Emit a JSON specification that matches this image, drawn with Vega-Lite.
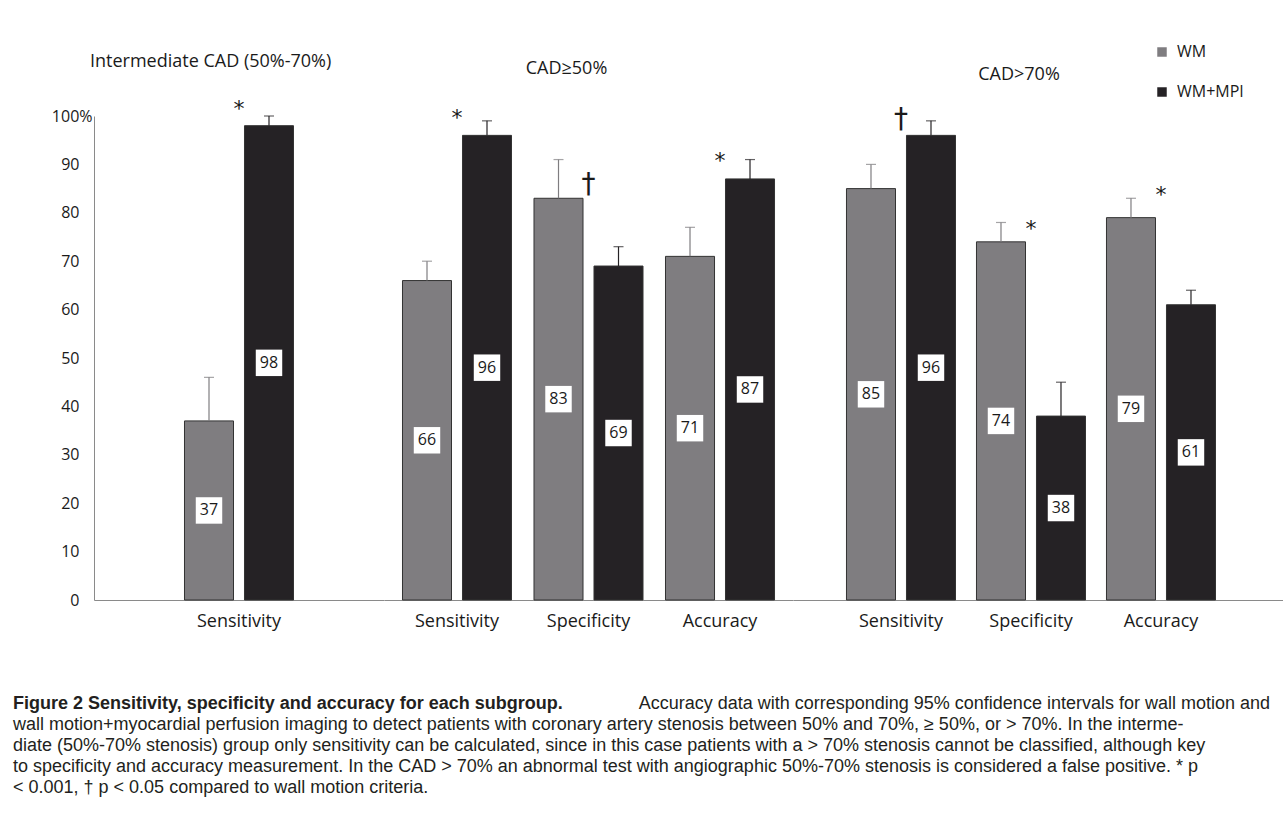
{
  "$schema": "https://vega.github.io/schema/vega-lite/v6.json",
  "background": "white",
  "padding": {"left": 13, "top": 44, "right": 0, "bottom": 0},
  "datasets": {
    "bars": [
      {"group": "Intermediate CAD (50%-70%)", "metric": "Sensitivity", "series": "WM", "value": 37, "upper": 46},
      {"group": "Intermediate CAD (50%-70%)", "metric": "Sensitivity", "series": "WM+MPI", "value": 98, "upper": 100},
      {"group": "CAD≥50%", "metric": "Sensitivity", "series": "WM", "value": 66, "upper": 70},
      {"group": "CAD≥50%", "metric": "Sensitivity", "series": "WM+MPI", "value": 96, "upper": 99},
      {"group": "CAD≥50%", "metric": "Specificity", "series": "WM", "value": 83, "upper": 91},
      {"group": "CAD≥50%", "metric": "Specificity", "series": "WM+MPI", "value": 69, "upper": 73},
      {"group": "CAD≥50%", "metric": "Accuracy", "series": "WM", "value": 71, "upper": 77},
      {"group": "CAD≥50%", "metric": "Accuracy", "series": "WM+MPI", "value": 87, "upper": 91},
      {"group": "CAD>70%", "metric": "Sensitivity", "series": "WM", "value": 85, "upper": 90},
      {"group": "CAD>70%", "metric": "Sensitivity", "series": "WM+MPI", "value": 96, "upper": 99},
      {"group": "CAD>70%", "metric": "Specificity", "series": "WM", "value": 74, "upper": 78},
      {"group": "CAD>70%", "metric": "Specificity", "series": "WM+MPI", "value": 38, "upper": 45},
      {"group": "CAD>70%", "metric": "Accuracy", "series": "WM", "value": 79, "upper": 83},
      {"group": "CAD>70%", "metric": "Accuracy", "series": "WM+MPI", "value": 61, "upper": 64}
    ],
    "sig": [
      {"group": "Intermediate CAD (50%-70%)", "metric": "Sensitivity", "sig": "*", "at": 101.5},
      {"group": "CAD≥50%", "metric": "Sensitivity", "sig": "*", "at": 99.6},
      {"group": "CAD≥50%", "metric": "Specificity", "sig": "†", "at": 85.8},
      {"group": "CAD≥50%", "metric": "Accuracy", "sig": "*", "at": 90.6},
      {"group": "CAD>70%", "metric": "Sensitivity", "sig": "†", "at": 99.2},
      {"group": "CAD>70%", "metric": "Specificity", "sig": "*", "at": 76.7},
      {"group": "CAD>70%", "metric": "Accuracy", "sig": "*", "at": 83.7}
    ],
    "caption": [
      {"line": 1, "part": "bold", "text": "Figure 2 Sensitivity, specificity and accuracy for each subgroup."},
      {"line": 1, "part": "tail", "text": "Accuracy data with corresponding 95% confidence intervals for wall motion and"},
      {"line": 2, "part": "body", "text": "wall motion+myocardial perfusion imaging to detect patients with coronary artery stenosis between 50% and 70%, ≥ 50%, or > 70%. In the interme-"},
      {"line": 3, "part": "body", "text": "diate (50%-70% stenosis) group only sensitivity can be calculated, since in this case patients with a > 70% stenosis cannot be classified, although key"},
      {"line": 4, "part": "body", "text": "to specificity and accuracy measurement. In the CAD > 70% an abnormal test with angiographic 50%-70% stenosis is considered a false positive. * p"},
      {"line": 5, "part": "body", "text": "< 0.001, † p < 0.05 compared to wall motion criteria."}
    ]
  },
  "columns": 1,
  "align": "none",
  "spacing": 63,
  "resolve": {"scale": {"color": "independent"}, "legend": {"color": "independent"}},
  "concat": [
    {
      "hconcat": [
        {
          "width": 81, "height": 484,
          "data": {"values": []},
          "mark": "point"
        },
        {
          "width": 290, "height": 484,
          "title": {"text": "Intermediate CAD (50%-70%)", "anchor": "start", "frame": "group", "dx": -4, "offset": 27},
          "data": {"name": "bars"},
          "transform": [{"filter": "datum.group == 'Intermediate CAD (50%-70%)'"}],
          "encoding": {
            "x": {"field": "metric", "type": "nominal", "scale": {"domain": ["Sensitivity"], "paddingInner": 0, "paddingOuter": 0.83}, "axis": {"title": null, "ticks": false, "labelAngle": 0, "labelPadding": 12, "domainColor": "#8a8a8a", "labelFontSize": 18}}
          },
          "layer": [
            {
              "layer": [
                {
                  "mark": {"type": "bar", "stroke": "#333333", "strokeWidth": 1},
                  "encoding": {
                    "xOffset": {"field": "series", "scale": {"domain": ["WM", "WM+MPI"], "paddingInner": 0.183, "paddingOuter": 0}},
                    "y": {"field": "value", "type": "quantitative", "scale": {"domain": [0, 100], "nice": false}, "axis": {"title": null, "values": [0, 10, 20, 30, 40, 50, 60, 70, 80, 90, 100], "labelExpr": "datum.value == 100 ? '100%' : datum.label", "grid": false, "ticks": false, "domainColor": "#8a8a8a", "labelFontSize": 16, "labelPadding": {"condition": {"test": "datum.value == 100", "value": 2}, "value": 15}}},
                    "color": {"field": "series", "type": "nominal", "scale": {"domain": ["WM", "WM+MPI"], "range": ["#7f7d80", "#252225"]}, "legend": null}
                  }
                },
                {
                  "mark": {"type": "rule", "strokeWidth": 1.2},
                  "encoding": {
                    "xOffset": {"field": "series"},
                    "y": {"field": "value", "type": "quantitative"},
                    "y2": {"field": "upper"},
                    "color": {"field": "series", "type": "nominal", "legend": null}
                  }
                },
                {
                  "mark": {"type": "tick", "size": 10, "thickness": 1.2},
                  "encoding": {
                    "xOffset": {"field": "series"},
                    "y": {"field": "upper", "type": "quantitative"},
                    "color": {"field": "series", "type": "nominal", "legend": null}
                  }
                },
                {
                  "data": {"name": "sig"},
                  "transform": [{"filter": "datum.group == 'Intermediate CAD (50%-70%)'"}],
                  "mark": {"type": "text", "font": "DejaVu Sans", "baseline": "middle", "color": "#1a1a1a"},
                  "encoding": {
                    "y": {"field": "at", "type": "quantitative"},
                    "text": {"field": "sig"},
                    "size": {"field": "sig", "type": "ordinal", "scale": {"domain": ["*", "†"], "range": [22, 28]}, "legend": null}
                  }
                }
              ]
            },
            {
              "layer": [
                {
                  "mark": {"type": "point", "shape": "square", "filled": true, "color": "white", "opacity": 1, "size": 700},
                  "encoding": {
                    "xOffset": {"field": "series"},
                    "y": {"field": "value", "type": "quantitative", "scale": {"domain": [0, 200], "nice": false}, "axis": null}
                  }
                },
                {
                  "mark": {"type": "text", "fontSize": 16, "color": "#1a1a1a", "baseline": "middle"},
                  "encoding": {
                    "xOffset": {"field": "series"},
                    "y": {"field": "value", "type": "quantitative", "axis": null},
                    "text": {"field": "value", "type": "quantitative"}
                  }
                }
              ]
            }
          ],
          "resolve": {"scale": {"y": "independent"}}
        },
        {
          "width": 409, "height": 484,
          "title": {"text": "CAD≥50%", "anchor": "middle", "dx": -22, "offset": 29},
          "data": {"name": "bars"},
          "transform": [{"filter": "datum.group == 'CAD≥50%'"}],
          "encoding": {
            "x": {"field": "metric", "type": "nominal", "scale": {"domain": ["Sensitivity", "Specificity", "Accuracy"], "paddingInner": 0.171, "paddingOuter": 0.1406}, "axis": {"title": null, "ticks": false, "labelAngle": 0, "labelPadding": 12, "domainColor": "#8a8a8a", "labelFontSize": 18}}
          },
          "layer": [
            {
              "layer": [
                {
                  "mark": {"type": "bar", "stroke": "#333333", "strokeWidth": 1},
                  "encoding": {
                    "xOffset": {"field": "series", "scale": {"domain": ["WM", "WM+MPI"], "paddingInner": 0.183, "paddingOuter": 0}},
                    "y": {"field": "value", "type": "quantitative", "scale": {"domain": [0, 100], "nice": false}, "axis": null},
                    "color": {"field": "series", "type": "nominal", "scale": {"domain": ["WM", "WM+MPI"], "range": ["#7f7d80", "#252225"]}, "legend": null}
                  }
                },
                {
                  "mark": {"type": "rule", "strokeWidth": 1.2},
                  "encoding": {
                    "xOffset": {"field": "series"},
                    "y": {"field": "value", "type": "quantitative", "axis": null},
                    "y2": {"field": "upper"},
                    "color": {"field": "series", "type": "nominal", "legend": null}
                  }
                },
                {
                  "mark": {"type": "tick", "size": 10, "thickness": 1.2},
                  "encoding": {
                    "xOffset": {"field": "series"},
                    "y": {"field": "upper", "type": "quantitative", "axis": null},
                    "color": {"field": "series", "type": "nominal", "legend": null}
                  }
                },
                {
                  "data": {"name": "sig"},
                  "transform": [{"filter": "datum.group == 'CAD≥50%'"}],
                  "mark": {"type": "text", "font": "DejaVu Sans", "baseline": "middle", "color": "#1a1a1a"},
                  "encoding": {
                    "y": {"field": "at", "type": "quantitative", "axis": null},
                    "text": {"field": "sig"},
                    "size": {"field": "sig", "type": "ordinal", "scale": {"domain": ["*", "†"], "range": [22, 28]}, "legend": null}
                  }
                }
              ]
            },
            {
              "layer": [
                {
                  "mark": {"type": "point", "shape": "square", "filled": true, "color": "white", "opacity": 1, "size": 700},
                  "encoding": {
                    "xOffset": {"field": "series"},
                    "y": {"field": "value", "type": "quantitative", "scale": {"domain": [0, 200], "nice": false}, "axis": null}
                  }
                },
                {
                  "mark": {"type": "text", "fontSize": 16, "color": "#1a1a1a", "baseline": "middle"},
                  "encoding": {
                    "xOffset": {"field": "series"},
                    "y": {"field": "value", "type": "quantitative", "axis": null},
                    "text": {"field": "value", "type": "quantitative"}
                  }
                }
              ]
            }
          ],
          "resolve": {"scale": {"y": "independent"}}
        },
        {
          "width": 490, "height": 484,
          "title": {"text": "CAD>70%", "anchor": "middle", "dx": -19, "offset": -40},
          "data": {"name": "bars"},
          "transform": [{"filter": "datum.group == 'CAD>70%'"}],
          "encoding": {
            "x": {"field": "metric", "type": "nominal", "scale": {"domain": ["Sensitivity", "Specificity", "Accuracy"], "paddingInner": 0.1615, "paddingOuter": 0.4654, "align": 0.442}, "axis": {"title": null, "ticks": false, "labelAngle": 0, "labelPadding": 12, "domainColor": "#8a8a8a", "labelFontSize": 18}}
          },
          "layer": [
            {
              "layer": [
                {
                  "mark": {"type": "bar", "stroke": "#333333", "strokeWidth": 1},
                  "encoding": {
                    "xOffset": {"field": "series", "scale": {"domain": ["WM", "WM+MPI"], "paddingInner": 0.183, "paddingOuter": 0}},
                    "y": {"field": "value", "type": "quantitative", "scale": {"domain": [0, 100], "nice": false}, "axis": null},
                    "color": {"field": "series", "type": "nominal", "scale": {"domain": ["WM", "WM+MPI"], "range": ["#7f7d80", "#252225"]}, "legend": {"orient": "none", "legendX": 361, "legendY": -72, "title": null, "direction": "vertical", "symbolType": "square", "symbolSize": 90, "symbolStrokeWidth": 0, "labelFontSize": 16, "labelFont": "Open Sans", "labelColor": "#1a1a1a", "rowPadding": 24, "labelOffset": 7, "padding": 0}}
                  }
                },
                {
                  "mark": {"type": "rule", "strokeWidth": 1.2},
                  "encoding": {
                    "xOffset": {"field": "series"},
                    "y": {"field": "value", "type": "quantitative", "axis": null},
                    "y2": {"field": "upper"},
                    "color": {"field": "series", "type": "nominal", "legend": null}
                  }
                },
                {
                  "mark": {"type": "tick", "size": 10, "thickness": 1.2},
                  "encoding": {
                    "xOffset": {"field": "series"},
                    "y": {"field": "upper", "type": "quantitative", "axis": null},
                    "color": {"field": "series", "type": "nominal", "legend": null}
                  }
                },
                {
                  "data": {"name": "sig"},
                  "transform": [{"filter": "datum.group == 'CAD>70%'"}],
                  "mark": {"type": "text", "font": "DejaVu Sans", "baseline": "middle", "color": "#1a1a1a"},
                  "encoding": {
                    "y": {"field": "at", "type": "quantitative", "axis": null},
                    "text": {"field": "sig"},
                    "size": {"field": "sig", "type": "ordinal", "scale": {"domain": ["*", "†"], "range": [22, 28]}, "legend": null}
                  }
                }
              ]
            },
            {
              "layer": [
                {
                  "mark": {"type": "point", "shape": "square", "filled": true, "color": "white", "opacity": 1, "size": 700},
                  "encoding": {
                    "xOffset": {"field": "series"},
                    "y": {"field": "value", "type": "quantitative", "scale": {"domain": [0, 200], "nice": false}, "axis": null}
                  }
                },
                {
                  "mark": {"type": "text", "fontSize": 16, "color": "#1a1a1a", "baseline": "middle"},
                  "encoding": {
                    "xOffset": {"field": "series"},
                    "y": {"field": "value", "type": "quantitative", "axis": null},
                    "text": {"field": "value", "type": "quantitative"}
                  }
                }
              ]
            }
          ],
          "resolve": {"scale": {"y": "independent"}}
        }
      ],
      "spacing": 0,
      "bounds": "flush",
      "resolve": {"scale": {"color": "independent"}, "legend": {"color": "independent"}}
    },
    {
      "width": 1257, "height": 105,
      "data": {"name": "caption"},
      "encoding": {
        "y": {"field": "line", "type": "ordinal", "scale": {"type": "point", "padding": 0.5}, "axis": null}
      },
      "layer": [
        {
          "transform": [{"filter": "datum.part == 'bold'"}],
          "mark": {"type": "text", "align": "left", "baseline": "middle", "fontWeight": "bold", "fontSize": 18, "font": "Liberation Sans", "color": "#231f20"},
          "encoding": {"x": {"datum": 0, "type": "quantitative", "scale": {"domain": [0, 1]}, "axis": null}, "text": {"field": "text"}}
        },
        {
          "transform": [{"filter": "datum.part == 'body'"}],
          "mark": {"type": "text", "align": "left", "baseline": "middle", "fontSize": 18, "font": "Liberation Sans", "color": "#231f20"},
          "encoding": {"x": {"datum": 0, "type": "quantitative", "axis": null}, "text": {"field": "text"}}
        },
        {
          "transform": [{"filter": "datum.part == 'tail'"}],
          "mark": {"type": "text", "align": "right", "baseline": "middle", "fontSize": 18, "font": "Liberation Sans", "color": "#231f20"},
          "encoding": {"x": {"datum": 1, "type": "quantitative", "axis": null}, "text": {"field": "text"}}
        }
      ]
    }
  ],
  "config": {
    "view": {"stroke": null},
    "font": "Open Sans",
    "axis": {"labelFont": "Open Sans", "labelColor": "#1a1a1a"},
    "title": {"font": "Open Sans", "fontSize": 18, "fontWeight": "normal", "color": "#1a1a1a"},
    "text": {"font": "Open Sans"}
  }
}
